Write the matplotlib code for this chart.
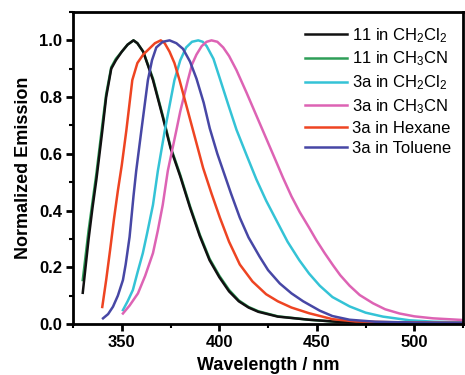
import matplotlib
matplotlib.use("Agg")
import matplotlib.pyplot as plt
from matplotlib.ticker import MultipleLocator, FormatStrFormatter

plt.rcParams['font.family'] = ['Liberation Sans', 'DejaVu Sans']
plt.rcParams['mathtext.default'] = 'regular'

labels = ["11 in CH$_2$Cl$_2$", "11 in CH$_3$CN", "3a in CH$_2$Cl$_2$",
          "3a in CH$_3$CN", "3a in Hexane", "3a in Toluene"]
colors = ["#111111", "#2e9e58", "#34c3d6", "#dd63b4", "#ee4422", "#4747a5"]

wl_11_dcm = [330, 333, 335, 337, 340, 342, 344.6, 347, 350, 353, 356, 358, 361, 366, 371, 375, 380, 385, 390, 395, 400, 405, 410, 415, 420, 430, 446, 460, 480, 500, 525]
em_11_dcm = [0.11, 0.30, 0.41, 0.51, 0.68, 0.80, 0.90, 0.93, 0.96, 0.985, 1.0, 0.99, 0.96, 0.86, 0.73, 0.62, 0.52, 0.41, 0.31, 0.225, 0.165, 0.115, 0.08, 0.058, 0.043, 0.026, 0.015, 0.008, 0.005, 0.004, 0.003]

wl_11_mecn = [330, 333, 335, 337, 340, 342, 344.6, 347, 350, 353, 356, 358, 361, 366, 371, 375, 380, 385, 390, 395, 400, 405, 410, 415, 420, 430, 446, 460, 480, 500, 525]
em_11_mecn = [0.155, 0.33, 0.43, 0.53, 0.70, 0.81, 0.905, 0.935, 0.96, 0.985, 1.0, 0.99, 0.96, 0.865, 0.735, 0.625, 0.525, 0.415, 0.315, 0.23, 0.17, 0.12, 0.083, 0.06, 0.045, 0.027, 0.015, 0.008, 0.005, 0.004, 0.003]

wl_3a_dcm = [350.6, 353, 355.7, 358, 360.8, 363, 366, 368.5, 372, 377, 380, 383, 386, 389.2, 391.5, 393.5, 397, 400.3, 404.5, 408.8, 414, 419, 424, 429.3, 435, 441, 446, 451.5, 458, 466.8, 475, 483.9, 497.6, 510, 525]
em_3a_dcm = [0.049, 0.08, 0.12, 0.18, 0.25, 0.32, 0.42, 0.54, 0.68, 0.86, 0.93, 0.975, 0.995, 1.0, 0.995, 0.98, 0.935, 0.865, 0.775, 0.685, 0.595, 0.51, 0.435, 0.365, 0.29, 0.225, 0.178, 0.135, 0.095, 0.062, 0.04, 0.026, 0.013, 0.008, 0.006]

wl_3a_mecn = [350.6, 354, 358.3, 362, 366, 368.5, 371, 373.6, 377.9, 380, 383.9, 386, 388.3, 391, 393.5, 396, 399, 402, 405, 408.8, 414, 419, 424, 429.3, 432.7, 437, 441.2, 446, 449.8, 454, 458.3, 462, 466.8, 472, 478.8, 485, 492.4, 500, 509.5, 525]
em_3a_mecn = [0.037, 0.065, 0.108, 0.17, 0.25, 0.33, 0.42, 0.54, 0.68, 0.75, 0.86, 0.915, 0.95, 0.98, 0.995, 1.0, 0.995, 0.975, 0.945, 0.895, 0.815, 0.735, 0.655, 0.57, 0.515, 0.45, 0.395, 0.34, 0.295, 0.25, 0.207, 0.172, 0.135, 0.102, 0.073, 0.052, 0.037, 0.027, 0.02, 0.014]

wl_3a_hex = [340, 342, 344, 346, 348, 350, 352.3, 355.4, 358, 361, 364, 367, 370, 372, 374.5, 377, 379.6, 383.9, 388, 391.7, 396, 400.3, 405, 410.5, 417, 424, 430, 437, 446, 458, 470, 490, 525]
em_3a_hex = [0.06, 0.155, 0.26, 0.37, 0.47, 0.56, 0.68, 0.86, 0.92, 0.95, 0.97, 0.99, 1.0, 0.99, 0.96, 0.92, 0.86, 0.75, 0.645, 0.55, 0.46, 0.375, 0.29, 0.21, 0.15, 0.105, 0.08, 0.058, 0.038, 0.017, 0.009, 0.006, 0.004]

wl_3a_tol = [340.4, 343, 345.5, 348, 350.6, 352, 354, 356, 357.4, 360, 363.4, 365.5, 367.7, 371, 374.5, 378, 381.4, 385, 388.3, 392, 395.1, 399, 403, 406, 410.5, 415, 420.7, 425, 431, 437, 443, 451.5, 458, 466.8, 480, 500, 525]
em_3a_tol = [0.02, 0.035, 0.061, 0.10, 0.155, 0.21, 0.307, 0.45, 0.54, 0.68, 0.86, 0.93, 0.975, 0.995, 1.0, 0.99, 0.97, 0.925, 0.865, 0.78, 0.69, 0.60, 0.52, 0.46, 0.375, 0.305, 0.237, 0.19, 0.143, 0.108, 0.08, 0.047, 0.028, 0.015, 0.008, 0.005, 0.004]

series = [(wl_11_dcm, em_11_dcm), (wl_11_mecn, em_11_mecn), (wl_3a_dcm, em_3a_dcm),
          (wl_3a_mecn, em_3a_mecn), (wl_3a_hex, em_3a_hex), (wl_3a_tol, em_3a_tol)]

fig = plt.figure(figsize=(4.65, 3.75), dpi=100)
ax = fig.add_axes([0.157, 0.136, 0.839, 0.832])

order = [1, 0, 2, 3, 4, 5]
handles = {}
for i in order:
    wl, em = series[i]
    h, = ax.plot(wl, em, color=colors[i], lw=1.8, label=labels[i])
    handles[i] = h

ax.set_xlim(325, 525)
ax.set_ylim(0, 1.1)
ax.xaxis.set_major_locator(MultipleLocator(50))
ax.xaxis.set_minor_locator(MultipleLocator(25))
ax.yaxis.set_major_locator(MultipleLocator(0.2))
ax.yaxis.set_minor_locator(MultipleLocator(0.1))
ax.yaxis.set_major_formatter(FormatStrFormatter('%.1f'))

for s in ax.spines.values():
    s.set_linewidth(2.0)
ax.tick_params(which='major', direction='out', length=5, width=2, labelsize=12, pad=3)
ax.tick_params(which='minor', direction='out', length=3, width=1.5)
ax.tick_params(top=False, right=False)
for lab in ax.get_xticklabels() + ax.get_yticklabels():
    lab.set_fontweight('bold')

ax.set_xlabel('Wavelength / nm', fontsize=13, fontweight='bold', labelpad=5)
ax.set_ylabel('Normalized Emission', fontsize=13, fontweight='bold', labelpad=5)

leg = ax.legend([handles[i] for i in range(6)], labels, loc='upper left',
                bbox_to_anchor=((305 - 73) / 390, (324 - 26) / 312),
                frameon=False, fontsize=12,
                handlelength=2.5, handletextpad=0.3, labelspacing=0.3,
                borderaxespad=0.0, borderpad=0.0)

fig.savefig('out.png', dpi=100)
